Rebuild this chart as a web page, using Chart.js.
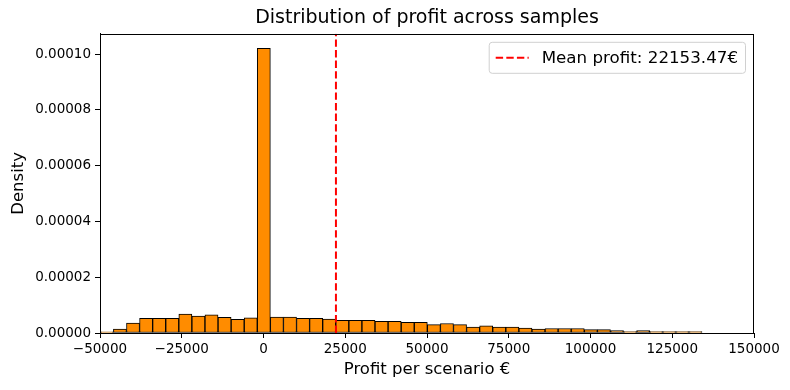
<!DOCTYPE html>
<html lang="en">
<head>
    <meta charset="UTF-8">
    <title>Distribution of profit across samples</title>
    <script src="https://cdn.jsdelivr.net/npm/chart.js"></script>
    <style>
        body { margin: 0; background: #fff; }
        canvas { display: block; }
    </style>
</head>
<body>
    <canvas id="profitHist" width="790" height="390"></canvas>

    <script>
        // --- data ---
        // bin centres (bin width 4000)
        const binCenters = [
            -47900, -43900, -39900, -35900, -31900, -27900, -23900, -19900, -15900, -11900,
            -7900, -3900, 100, 4100, 8100, 12100, 16100, 20100, 24100, 28100,
            32100, 36100, 40100, 44100, 48100, 52100, 56100, 60100, 64100, 68100,
            72100, 76100, 80100, 84100, 88100, 92100, 96100, 100100, 104100, 108100,
            112100, 116100, 120100, 124100, 128100, 132100
        ];
        const densities = [
            0.0000004, 0.0000014, 0.0000036, 0.0000053, 0.0000053, 0.0000053, 0.0000068, 0.0000061, 0.0000065, 0.0000056,
            0.0000049, 0.0000054, 0.0001021, 0.0000057, 0.0000057, 0.0000053, 0.0000053, 0.0000050, 0.0000045, 0.0000045,
            0.0000045, 0.0000042, 0.0000042, 0.0000038, 0.0000038, 0.0000030, 0.0000034, 0.0000030, 0.0000021, 0.0000026,
            0.0000021, 0.0000021, 0.0000018, 0.0000014, 0.0000016, 0.0000016, 0.0000016, 0.0000012, 0.0000012, 0.0000009,
            0.0000005, 0.0000009, 0.0000005, 0.0000005, 0.0000005, 0.0000005
        ];
        const meanProfit = 22153.47;
        const xTicks = [-50000, -25000, 0, 25000, 50000, 75000, 100000, 125000, 150000];
        const yTicks = [0, 0.00002, 0.00004, 0.00006, 0.00008, 0.00010];
        const xMin = -50000, xMax = 150000;
        const yMax = 0.0001073;

        const FONT = "'DejaVu Sans', sans-serif";

        // Rahmen + Legende wie bei matplotlib (oben rechts im Plotbereich)
        const framePlugin = {
            id: 'frameLegend',
            afterDraw(chart) {
                const ctx = chart.ctx;
                const a = chart.chartArea;
                ctx.save();
                ctx.strokeStyle = '#000';
                ctx.lineWidth = 1;
                ctx.strokeRect(Math.round(a.left) + 0.5, Math.round(a.top) + 0.5,
                    Math.round(a.right - a.left) - 1, Math.round(a.bottom - a.top));

                const ds = chart.data.datasets[0];
                ctx.font = '16.7px ' + FONT;
                const tw = ctx.measureText(ds.label).width;
                const w = tw + 60, h = 31;
                const x = a.right - 9 - w, y = a.top + 8;
                ctx.beginPath();
                ctx.roundRect(x + 0.5, y + 0.5, w, h, 3);
                ctx.fillStyle = 'rgba(255,255,255,0.8)';
                ctx.fill();
                ctx.strokeStyle = '#d0d0d0';
                ctx.stroke();

                ctx.beginPath();
                ctx.setLineDash([7.4, 3.2]);
                ctx.strokeStyle = ds.borderColor;
                ctx.lineWidth = 2;
                ctx.moveTo(x + 7, y + h / 2 + 0.5);
                ctx.lineTo(x + 40, y + h / 2 + 0.5);
                ctx.stroke();
                ctx.setLineDash([]);

                ctx.fillStyle = '#000';
                ctx.textBaseline = 'middle';
                ctx.fillText(ds.label, x + 53, y + h / 2 + 1);
                ctx.restore();
            }
        };

        new Chart(document.getElementById('profitHist'), {
            type: 'bar',
            data: {
                datasets: [{
                    type: 'line',
                    label: 'Mean profit: ' + meanProfit.toFixed(2) + '€',
                    data: [{ x: meanProfit, y: 0 }, { x: meanProfit, y: yMax }],
                    borderColor: '#ff0000',
                    borderWidth: 2,
                    borderDash: [7.4, 3.2],
                    pointRadius: 0,
                    order: 0
                }, {
                    type: 'bar',
                    label: 'Profit',
                    data: binCenters.map((c, i) => ({ x: c, y: densities[i] })),
                    backgroundColor: '#ff8c00',
                    borderColor: '#000',
                    borderWidth: 1,
                    borderSkipped: false,
                    barPercentage: 1,
                    categoryPercentage: 1,
                    order: 1
                }]
            },
            options: {
                responsive: false,
                animation: false,
                layout: { padding: { left: 0, right: 36, top: 0, bottom: 0 } },
                plugins: {
                    legend: { display: false },
                    tooltip: { enabled: false },
                    title: {
                        display: true,
                        text: 'Distribution of profit across samples',
                        fullSize: false,
                        color: '#000',
                        font: { family: FONT, size: 19, weight: 'normal' },
                        padding: { top: 7, bottom: 4 }
                    }
                },
                scales: {
                    x: {
                        type: 'linear',
                        min: xMin,
                        max: xMax,
                        offset: false,
                        afterFit(scale) { scale.height = 57; },
                        afterBuildTicks(scale) { scale.ticks = xTicks.map(v => ({ value: v })); },
                        grid: { drawOnChartArea: false, offset: false, color: '#000', tickLength: 5 },
                        border: { color: '#000' },
                        ticks: {
                            color: '#000',
                            padding: 3,
                            maxRotation: 0,
                            font: { family: FONT, size: 13.5 },
                            callback: v => v < 0 ? '\u2212' + Math.abs(v) : String(v)
                        },
                        title: {
                            display: true,
                            text: 'Profit per scenario €',
                            color: '#000',
                            font: { family: FONT, size: 16.5 },
                            padding: { top: 0, bottom: 10 }
                        }
                    },
                    y: {
                        min: 0,
                        max: yMax,
                        afterFit(scale) { scale.width = 100; },
                        afterBuildTicks(scale) { scale.ticks = yTicks.map(v => ({ value: v })); },
                        grid: { drawOnChartArea: false, color: '#000', tickLength: 5 },
                        border: { color: '#000' },
                        ticks: {
                            color: '#000',
                            padding: 4,
                            font: { family: FONT, size: 13.5 },
                            callback: v => v.toFixed(5)
                        },
                        title: {
                            display: true,
                            text: 'Density',
                            color: '#000',
                            font: { family: FONT, size: 16.5 },
                            padding: { top: 9, bottom: 0 }
                        }
                    }
                }
            },
            plugins: [framePlugin]
        });
    </script>
</body>
</html>
